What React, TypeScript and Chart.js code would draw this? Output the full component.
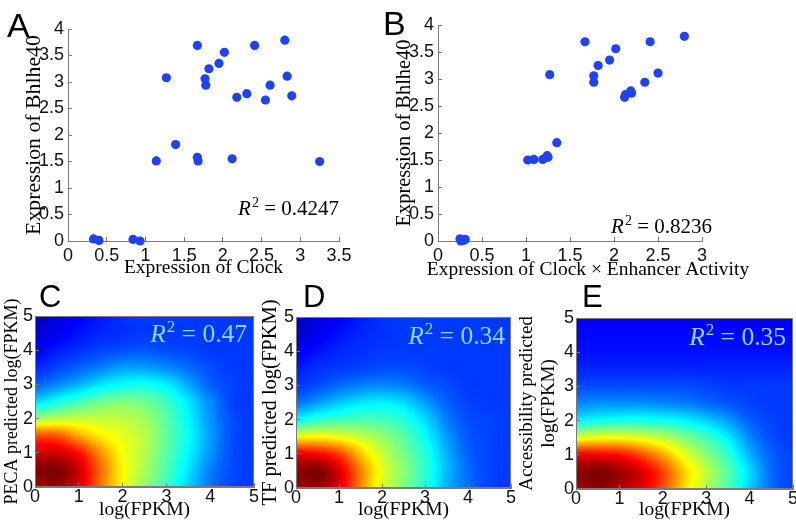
import React, { useEffect, useRef } from 'react';
import { Chart, registerables } from 'chart.js';

Chart.register(...registerables);

// ---------------- data ----------------
// Panels A / B: expression of Bhlhe40 (shared y) vs. Clock and Clock x Enhancer Activity
const bhlhe40Expr = [0.04, 0.01, 0.03, 0.0, 1.51, 3.08, 1.82, 3.69, 1.58, 1.51, 3.06, 2.94, 3.25, 3.35, 3.56, 1.55, 2.71, 2.78, 3.69, 2.66, 2.94, 3.79, 3.11, 2.74, 1.5];
const clockExpr = [0.33, 0.4, 0.84, 0.93, 1.14, 1.27, 1.39, 1.67, 1.67, 1.68, 1.77, 1.78, 1.82, 1.95, 2.02, 2.12, 2.18, 2.31, 2.41, 2.55, 2.61, 2.8, 2.83, 2.89, 3.25];
const clockTimesEnhancer = [0.25, 0.29, 0.31, 0.26, 1.09, 1.27, 1.35, 1.67, 1.24, 1.19, 1.77, 1.77, 1.82, 1.95, 2.02, 1.25, 2.13, 2.19, 2.41, 2.12, 2.35, 2.8, 2.5, 2.2, 1.02];

const r2Labels = ['0.4247', '0.8236', '0.47', '0.34', '0.35'];
const panelLetters = ['A', 'B', 'C', 'D', 'E'];

// Panels C / D / E: density grids (jet colour value 0..1), rows from log(FPKM)=0 (bottom) to 5 (top)
const densityGridX = [0, 0.5, 1, 1.5, 2, 2.5, 3, 3.5, 4, 4.5, 5];
const densityGridY = [0, 0.5, 1, 1.5, 2, 2.5, 3, 3.5, 4, 4.5, 5];

const densityPECA = [
  [0.96, 0.98, 0.91, 0.76, 0.62, 0.52, 0.43, 0.33, 0.24, 0.19, 0.18],
  [0.99, 1.0, 0.92, 0.77, 0.63, 0.54, 0.45, 0.35, 0.25, 0.2, 0.18],
  [0.92, 0.92, 0.86, 0.73, 0.62, 0.55, 0.46, 0.37, 0.27, 0.2, 0.18],
  [0.8, 0.79, 0.71, 0.64, 0.6, 0.55, 0.47, 0.38, 0.28, 0.2, 0.18],
  [0.54, 0.56, 0.57, 0.57, 0.56, 0.53, 0.46, 0.37, 0.27, 0.2, 0.18],
  [0.34, 0.39, 0.44, 0.48, 0.5, 0.48, 0.43, 0.35, 0.26, 0.19, 0.18],
  [0.22, 0.26, 0.3, 0.35, 0.38, 0.39, 0.36, 0.29, 0.22, 0.19, 0.18],
  [0.16, 0.19, 0.22, 0.25, 0.28, 0.28, 0.26, 0.23, 0.2, 0.18, 0.18],
  [0.12, 0.15, 0.17, 0.19, 0.2, 0.21, 0.2, 0.19, 0.18, 0.18, 0.18],
  [0.08, 0.11, 0.14, 0.16, 0.17, 0.18, 0.18, 0.18, 0.18, 0.18, 0.18],
  [0.06, 0.09, 0.12, 0.15, 0.17, 0.18, 0.18, 0.18, 0.18, 0.18, 0.18],
];

const densityTF = [
  [0.96, 0.98, 0.91, 0.74, 0.59, 0.5, 0.41, 0.3, 0.23, 0.19, 0.18],
  [0.98, 1.0, 0.91, 0.75, 0.6, 0.51, 0.42, 0.31, 0.23, 0.19, 0.18],
  [0.89, 0.87, 0.81, 0.68, 0.57, 0.49, 0.41, 0.3, 0.22, 0.19, 0.18],
  [0.62, 0.63, 0.61, 0.57, 0.52, 0.46, 0.38, 0.28, 0.21, 0.19, 0.18],
  [0.38, 0.42, 0.44, 0.45, 0.44, 0.41, 0.34, 0.25, 0.2, 0.19, 0.18],
  [0.24, 0.28, 0.32, 0.35, 0.36, 0.34, 0.28, 0.22, 0.19, 0.18, 0.18],
  [0.18, 0.2, 0.23, 0.25, 0.26, 0.25, 0.22, 0.2, 0.18, 0.18, 0.18],
  [0.15, 0.17, 0.18, 0.19, 0.2, 0.2, 0.19, 0.18, 0.18, 0.18, 0.18],
  [0.11, 0.14, 0.16, 0.17, 0.18, 0.18, 0.18, 0.18, 0.18, 0.18, 0.18],
  [0.08, 0.11, 0.14, 0.16, 0.17, 0.18, 0.18, 0.18, 0.18, 0.18, 0.18],
  [0.06, 0.09, 0.12, 0.15, 0.17, 0.18, 0.18, 0.18, 0.18, 0.18, 0.18],
];

const densityAccessibility = [
  [0.96, 0.99, 0.95, 0.9, 0.8, 0.66, 0.55, 0.45, 0.33, 0.23, 0.19],
  [0.98, 1.0, 0.97, 0.91, 0.81, 0.67, 0.56, 0.46, 0.34, 0.23, 0.19],
  [0.88, 0.88, 0.86, 0.8, 0.71, 0.6, 0.51, 0.42, 0.3, 0.22, 0.19],
  [0.6, 0.62, 0.62, 0.6, 0.56, 0.5, 0.44, 0.36, 0.26, 0.2, 0.18],
  [0.37, 0.39, 0.4, 0.4, 0.39, 0.37, 0.33, 0.28, 0.22, 0.19, 0.18],
  [0.26, 0.27, 0.27, 0.27, 0.26, 0.25, 0.23, 0.21, 0.19, 0.18, 0.18],
  [0.2, 0.2, 0.2, 0.2, 0.2, 0.2, 0.19, 0.18, 0.18, 0.18, 0.18],
  [0.16, 0.16, 0.16, 0.16, 0.16, 0.16, 0.16, 0.16, 0.16, 0.16, 0.16],
  [0.14, 0.14, 0.14, 0.14, 0.14, 0.14, 0.14, 0.14, 0.14, 0.14, 0.14],
  [0.13, 0.13, 0.13, 0.13, 0.13, 0.13, 0.13, 0.13, 0.13, 0.13, 0.13],
  [0.12, 0.12, 0.12, 0.12, 0.12, 0.12, 0.12, 0.12, 0.12, 0.12, 0.12],
];

// ---------------- styling ----------------
const SERIF = '"Liberation Serif", "Times New Roman", serif';
const SANS = '"Liberation Sans", Arial, sans-serif';
const AXIS_GREY = '#7a7a7a';
const DOT_BLUE = '#2042f2';
const R2_CYAN = '#8adcff';

// ---------------- helpers ----------------
const clamp01 = (t: number) => Math.max(0, Math.min(1, t));
const jet = (v: number) => [
  clamp01(1.5 - Math.abs(4 * v - 3)),
  clamp01(1.5 - Math.abs(4 * v - 2)),
  clamp01(1.5 - Math.abs(4 * v - 1)),
];

function cubic(p0: number, p1: number, p2: number, p3: number, t: number) {
  return (
    p1 +
    0.5 * t * (p2 - p0 + t * (2 * p0 - 5 * p1 + 4 * p2 - p3 + t * (3 * (p1 - p2) + p3 - p0)))
  );
}

function sampleGrid(grid: number[][], gx: number, gy: number) {
  const ny = grid.length;
  const nx = grid[0].length;
  const ix = Math.floor(gx);
  const iy = Math.floor(gy);
  const tx = gx - ix;
  const ty = gy - iy;
  const at = (r: number, c: number) =>
    grid[Math.max(0, Math.min(ny - 1, r))][Math.max(0, Math.min(nx - 1, c))];
  const rows: number[] = [];
  for (let k = -1; k <= 2; k++) {
    const r = iy + k;
    rows.push(cubic(at(r, ix - 1), at(r, ix), at(r, ix + 1), at(r, ix + 2), tx));
  }
  return clamp01(cubic(rows[0], rows[1], rows[2], rows[3], ty));
}

function makeHeatPlugin(grid: number[][]) {
  return {
    id: 'densityHeat',
    beforeDraw(chart: any) {
      const { left, top, right, bottom } = chart.chartArea;
      const xs = chart.scales.x;
      const ys = chart.scales.y;
      const w = Math.round(right - left);
      const h = Math.round(bottom - top);
      const off = document.createElement('canvas');
      off.width = w;
      off.height = h;
      const octx = off.getContext('2d')!;
      const img = octx.createImageData(w, h);
      const dx = densityGridX[1] - densityGridX[0];
      const dy = densityGridY[1] - densityGridY[0];
      for (let py = 0; py < h; py++) {
        const yv = ys.getValueForPixel(top + py + 0.5);
        const gy = (yv - densityGridY[0]) / dy;
        for (let px = 0; px < w; px++) {
          const xv = xs.getValueForPixel(left + px + 0.5);
          const gx = (xv - densityGridX[0]) / dx;
          const [r, g, b] = jet(sampleGrid(grid, gx, gy));
          const i = (py * w + px) * 4;
          img.data[i] = Math.round(r * 255);
          img.data[i + 1] = Math.round(g * 255);
          img.data[i + 2] = Math.round(b * 255);
          img.data[i + 3] = 255;
        }
      }
      octx.putImageData(img, 0, 0);
      chart.ctx.drawImage(off, left, top);
    },
    afterDraw(chart: any) {
      const { left, top, right, bottom } = chart.chartArea;
      const ctx = chart.ctx;
      ctx.save();
      ctx.strokeStyle = AXIS_GREY;
      ctx.lineWidth = 1;
      ctx.strokeRect(Math.round(left) + 0.5, Math.round(top) + 0.5, Math.round(right - left) - 1, Math.round(bottom - top) - 1);
      ctx.restore();
    },
  };
}

type TextItem =
  | { kind: 'text'; x: number; y: number; text: string; font: string; color: string; align: CanvasTextAlign }
  | { kind: 'r2'; x: number; y: number; value: string; size: number; color: string };

function makeTextPlugin(items: TextItem[]) {
  return {
    id: 'panelText',
    afterDraw(chart: any) {
      const ctx: CanvasRenderingContext2D = chart.ctx;
      ctx.save();
      ctx.textBaseline = 'alphabetic';
      for (const it of items) {
        if (it.kind === 'text') {
          ctx.font = it.font;
          ctx.fillStyle = it.color;
          ctx.textAlign = it.align;
          ctx.fillText(it.text, it.x, it.y);
        } else {
          const s = it.size;
          ctx.textAlign = 'left';
          ctx.fillStyle = it.color;
          ctx.font = `italic ${s}px ${SERIF}`;
          const wR = ctx.measureText('R').width;
          ctx.font = `${Math.round(s * 0.68)}px ${SERIF}`;
          const w2 = ctx.measureText('2').width;
          const rest = ' = ' + it.value;
          ctx.font = `${s}px ${SERIF}`;
          const wRest = ctx.measureText(rest).width;
          const x0 = it.x - (wR + 1 + w2 + wRest);
          ctx.font = `italic ${s}px ${SERIF}`;
          ctx.fillText('R', x0, it.y);
          ctx.font = `${Math.round(s * 0.68)}px ${SERIF}`;
          ctx.fillText('2', x0 + wR + 1, it.y - s * 0.4);
          ctx.font = `${s}px ${SERIF}`;
          ctx.fillText(rest, x0 + wR + 1 + w2, it.y);
        }
      }
      ctx.restore();
    },
  };
}

type Box = { left: number; top: number; w: number; h: number; plotLeft: number; plotRight: number; plotTop: number; plotBottom: number };

type AxisSpec = {
  min: number;
  max: number;
  step: number;
  tickSize: number;
  tickPad: number;
  title?: string | string[];
  titleSize?: number;
  titleLineHeight?: number;
  titlePad?: number;
};

const tickText = (v: number | string) => String(Math.round(Number(v) * 100) / 100);

function makeScale(axis: 'x' | 'y', spec: AxisSpec, box: Box) {
  return {
    type: 'linear',
    position: axis === 'x' ? 'bottom' : 'left',
    min: spec.min,
    max: spec.max,
    ticks: {
      stepSize: spec.step,
      autoSkip: false,
      maxRotation: 0,
      minRotation: 0,
      color: '#111111',
      padding: spec.tickPad,
      font: { family: SANS, size: spec.tickSize },
      callback: (v: number | string) => tickText(v),
    },
    grid: {
      drawOnChartArea: false,
      drawTicks: true,
      tickLength: -4,
      color: AXIS_GREY,
      lineWidth: 1,
    },
    border: { display: true, color: AXIS_GREY, width: 1 },
    title: spec.title
      ? {
          display: true,
          text: spec.title,
          color: '#000000',
          font: { family: SERIF, size: spec.titleSize, lineHeight: spec.titleLineHeight ?? 1.2 },
          padding: axis === 'x' ? { top: 0, bottom: spec.titlePad ?? 0 } : { top: spec.titlePad ?? 0, bottom: 0 },
        }
      : { display: false },
    afterFit: (s: any) => {
      if (axis === 'x') s.height = box.h - box.plotBottom;
      else s.width = box.plotLeft;
      s.paddingLeft = 0;
      s.paddingRight = 0;
      s.paddingTop = 0;
      s.paddingBottom = 0;
    },
  };
}

function baseOptions(box: Box, xSpec: AxisSpec, ySpec: AxisSpec) {
  return {
    responsive: false,
    animation: false,
    events: [],
    devicePixelRatio: 1,
    layout: {
      autoPadding: false,
      padding: { left: 0, top: box.plotTop, right: box.w - box.plotRight, bottom: 0 },
    },
    plugins: { legend: { display: false }, tooltip: { enabled: false }, title: { display: false } },
    scales: { x: makeScale('x', xSpec, box), y: makeScale('y', ySpec, box) },
  };
}

// ---------------- panel layouts (page pixels) ----------------
const boxA: Box = { left: 0, top: 0, w: 380, h: 280, plotLeft: 68, plotRight: 339, plotTop: 29, plotBottom: 241 };
const boxB: Box = { left: 380, top: 0, w: 416, h: 280, plotLeft: 58, plotRight: 322, plotTop: 25, plotBottom: 241 };
const boxC: Box = { left: 0, top: 270, w: 262, h: 259, plotLeft: 35, plotRight: 254, plotTop: 46, plotBottom: 217 };
const boxD: Box = { left: 255, top: 270, w: 275, h: 259, plotLeft: 41, plotRight: 256, plotTop: 47, plotBottom: 218 };
const boxE: Box = { left: 515, top: 270, w: 281, h: 259, plotLeft: 61, plotRight: 278, plotTop: 48, plotBottom: 219 };

function scatterConfig(box: Box, xs: number[], xSpec: AxisSpec, ySpec: AxisSpec, extra: TextItem[]) {
  const points = xs.map((x, i) => ({ x, y: bhlhe40Expr[i] }));
  return {
    type: 'scatter',
    data: {
      datasets: [
        {
          data: points,
          pointRadius: 4.6,
          pointBackgroundColor: DOT_BLUE,
          pointBorderWidth: 0,
          clip: false,
        },
      ],
    },
    options: baseOptions(box, xSpec, ySpec),
    plugins: [makeTextPlugin(extra)],
  };
}

function heatConfig(box: Box, grid: number[][], xSpec: AxisSpec, ySpec: AxisSpec, extra: TextItem[]) {
  return {
    type: 'scatter',
    data: { datasets: [] },
    options: baseOptions(box, xSpec, ySpec),
    plugins: [makeHeatPlugin(grid), makeTextPlugin(extra)],
  };
}

const letterFont = (s: number) => `${s}px ${SANS}`;

const configs: { box: Box; build: () => any }[] = [
  {
    box: boxA,
    build: () =>
      scatterConfig(
        boxA,
        clockExpr,
        { min: 0, max: 3.5, step: 0.5, tickSize: 18, tickPad: 8, title: 'Expression of Clock', titleSize: 19.5, titlePad: 0 },
        { min: 0, max: 4, step: 0.5, tickSize: 18, tickPad: 8, title: 'Expression of Bhlhe40', titleSize: 21.8, titlePad: 21 },
        [
          { kind: 'text', x: 7, y: 37, text: panelLetters[0], font: letterFont(34), color: '#000', align: 'left' },
          { kind: 'r2', x: 339, y: 215, value: r2Labels[0], size: 21, color: '#000' },
        ],
      ),
  },
  {
    box: boxB,
    build: () =>
      scatterConfig(
        boxB,
        clockTimesEnhancer,
        { min: 0, max: 3, step: 0.5, tickSize: 18, tickPad: 8 },
        { min: 0, max: 4, step: 0.5, tickSize: 18, tickPad: 8, title: 'Expression of Bhlhe40', titleSize: 20.4, titlePad: 12 },
        [
          { kind: 'text', x: 3, y: 35, text: panelLetters[1], font: letterFont(34), color: '#000', align: 'left' },
          { kind: 'text', x: 208, y: 275, text: 'Expression of Clock \u00d7 Enhancer Activity', font: `19.5px ${SERIF}`, color: '#000', align: 'center' },
          { kind: 'r2', x: 332, y: 233, value: r2Labels[1], size: 21, color: '#000' },
        ],
      ),
  },
  {
    box: boxC,
    build: () =>
      heatConfig(
        boxC,
        densityPECA,
        { min: 0, max: 5, step: 1, tickSize: 18, tickPad: 3, title: 'log(FPKM)', titleSize: 19.5, titlePad: 7 },
        { min: 0, max: 5, step: 1, tickSize: 18, tickPad: 6, title: 'PECA predicted log(FPKM)', titleSize: 18, titlePad: 1 },
        [
          { kind: 'text', x: 39, y: 37, text: panelLetters[2], font: letterFont(31), color: '#000', align: 'left' },
          { kind: 'r2', x: 247, y: 72, value: r2Labels[2], size: 25.5, color: R2_CYAN },
        ],
      ),
  },
  {
    box: boxD,
    build: () =>
      heatConfig(
        boxD,
        densityTF,
        { min: 0, max: 5, step: 1, tickSize: 18, tickPad: 3, title: 'log(FPKM)', titleSize: 19.5, titlePad: 7 },
        { min: 0, max: 5, step: 1, tickSize: 18, tickPad: 6, title: 'TF predicted log(FPKM)', titleSize: 20.5, titlePad: 3.5 },
        [
          { kind: 'text', x: 48, y: 37, text: panelLetters[3], font: letterFont(31), color: '#000', align: 'left' },
          { kind: 'r2', x: 250, y: 74, value: r2Labels[3], size: 25.5, color: R2_CYAN },
        ],
      ),
  },
  {
    box: boxE,
    build: () =>
      heatConfig(
        boxE,
        densityAccessibility,
        { min: 0, max: 5, step: 1, tickSize: 18, tickPad: 3, title: 'log(FPKM)', titleSize: 19.5, titlePad: 7 },
        { min: 0, max: 5, step: 1, tickSize: 18, tickPad: 6, title: ['Accessibility predicted', 'log(FPKM)'], titleSize: 19, titleLineHeight: 1.16, titlePad: 1 },
        [
          { kind: 'text', x: 67, y: 37, text: panelLetters[4], font: letterFont(31), color: '#000', align: 'left' },
          { kind: 'r2', x: 271, y: 75, value: r2Labels[4], size: 25.5, color: R2_CYAN },
        ],
      ),
  },
];

function PanelCanvas({ box, build }: { box: Box; build: () => any }) {
  const ref = useRef<HTMLCanvasElement>(null);
  useEffect(() => {
    if (!ref.current) return;
    const chart = new Chart(ref.current, build());
    return () => chart.destroy();
  }, []);
  return (
    <canvas
      ref={ref}
      width={box.w}
      height={box.h}
      style={{ position: 'absolute', left: box.left, top: box.top, width: box.w, height: box.h }}
    />
  );
}

export default function App() {
  return (
    <div style={{ position: 'absolute', left: 0, top: 0, width: 796, height: 529, background: '#ffffff', overflow: 'hidden' }}>
      {configs.map((c, i) => (
        <PanelCanvas key={i} box={c.box} build={c.build} />
      ))}
    </div>
  );
}
